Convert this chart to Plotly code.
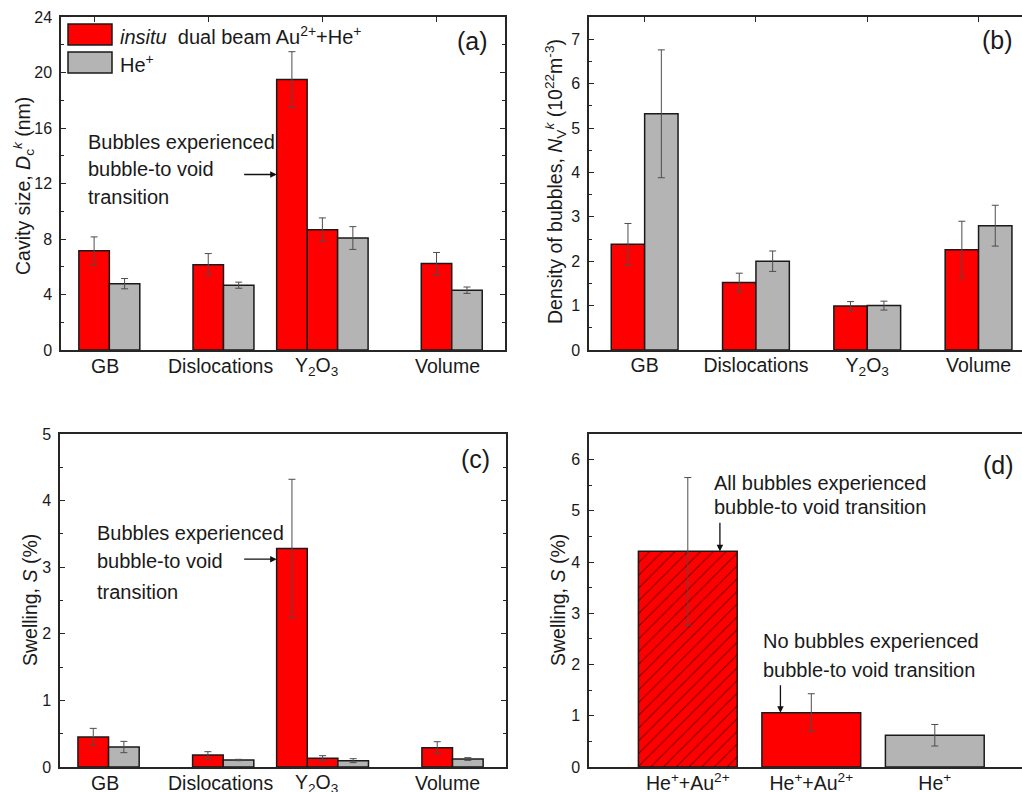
import plotly.graph_objects as go

# ---------------- data ----------------
sites = ["GB", "Dislocations", "Y<sub>2</sub>O<sub>3</sub>", "Volume"]
site_pos = [1, 2, 3, 4]

# (a) cavity size D_c^k, nm
size_dual = [7.15, 6.15, 8.67, 6.23]
size_dual_err = [1.0, 0.8, 0.85, 0.8]
size_he = [4.78, 4.67, 8.07, 4.31]
size_he_err = [0.37, 0.22, 0.82, 0.23]
size_void = [19.5]          # Y2O3 cavities after bubble-to-void transition
size_void_err = [2.0]

# (b) bubble density N_V^k, 1e22 m^-3
dens_dual = [2.38, 1.52, 0.99, 2.26]
dens_dual_err = [0.47, 0.21, 0.10, 0.64]
dens_he = [5.32, 2.00, 1.00, 2.80]
dens_he_err = [1.44, 0.23, 0.10, 0.46]

# (c) swelling by site, %
sw_dual = [0.45, 0.18, 0.13, 0.29]
sw_dual_err = [0.13, 0.05, 0.04, 0.09]
sw_he = [0.30, 0.105, 0.095, 0.12]
sw_he_err = [0.085, 0.01, 0.03, 0.02]
sw_void = [3.28]
sw_void_err = [1.04]

# (d) total swelling, %
total_labels = ["He<sup>+</sup>+Au<sup>2+</sup>", "He<sup>+</sup>+Au<sup>2+</sup>", "He<sup>+</sup>"]
total_pos = [1, 2, 3]
total_sw = [4.21, 1.06, 0.62]
total_sw_err = [1.44, 0.37, 0.21]

# ---------------- style ----------------
W, H = 1022, 792
RED = "#ff0000"
GREY = "#b4b4b4"
EDGE = "#1a1a1a"
ERRC = "#4d4d4d"
AXC = "#262626"
TXT = "#1a1a1a"
FONT = "Liberation Sans, Arial, sans-serif"

W_SITE = 0.267   # bar width in panels (a) and (c)
W_DENS = 0.30    # bar width in panel (b)
W_TOT = 0.80     # bar width in panel (d)


def px_x(p):
    return p / W


def px_y(p):
    return 1 - p / H


def bar(xa, ya, x, y, err, color, width, offset, pattern=None):
    marker = dict(color=color, line=dict(color=EDGE, width=1.5))
    if pattern:
        marker["pattern"] = pattern
    return go.Bar(
        x=x, y=y, xaxis=xa, yaxis=ya, width=width, offset=offset,
        marker=marker, showlegend=False,
        error_y=dict(type="data", array=err, color=ERRC, thickness=1, width=3.5),
    )


fig = go.Figure()

# (a)
fig.add_trace(bar("x", "y", site_pos, size_dual, size_dual_err, RED, W_SITE, -W_SITE / 2))
fig.add_trace(bar("x", "y", site_pos, size_he, size_he_err, GREY, W_SITE, W_SITE / 2))
fig.add_trace(bar("x", "y", [site_pos[2]], size_void, size_void_err, RED, W_SITE, -1.5 * W_SITE))

# (b)
fig.add_trace(bar("x2", "y2", site_pos, dens_dual, dens_dual_err, RED, W_DENS, -W_DENS))
fig.add_trace(bar("x2", "y2", site_pos, dens_he, dens_he_err, GREY, W_DENS, 0))

# (c)
fig.add_trace(bar("x3", "y3", site_pos, sw_dual, sw_dual_err, RED, W_SITE, -W_SITE / 2))
fig.add_trace(bar("x3", "y3", site_pos, sw_he, sw_he_err, GREY, W_SITE, W_SITE / 2))
fig.add_trace(bar("x3", "y3", [site_pos[2]], sw_void, sw_void_err, RED, W_SITE, -1.5 * W_SITE))

# (d)
hatch = dict(shape="/", fgcolor="#000000", bgcolor=RED, size=9, solidity=0.12)
fig.add_trace(bar("x4", "y4", total_pos[:1], total_sw[:1], total_sw_err[:1], RED, W_TOT, -W_TOT / 2, hatch))
fig.add_trace(bar("x4", "y4", total_pos[1:2], total_sw[1:2], total_sw_err[1:2], RED, W_TOT, -W_TOT / 2))
fig.add_trace(bar("x4", "y4", total_pos[2:], total_sw[2:], total_sw_err[2:], GREY, W_TOT, -W_TOT / 2))

base_axis = dict(
    showline=True, linecolor=AXC, linewidth=1.5, showgrid=False, zeroline=False,
    ticks="inside", ticklen=5, tickwidth=1.2, tickcolor=AXC, automargin=False,
    tickfont=dict(family=FONT, size=16, color=TXT), fixedrange=True,
)


def yaxis(domain, rng, dtick, minor_dtick, mirror, anchor):
    return dict(
        base_axis, domain=domain, range=rng, dtick=dtick, tick0=0, anchor=anchor,
        mirror=mirror, ticklabelstandoff=4,
        minor=dict(ticks="inside", ticklen=3, dtick=minor_dtick, tick0=0,
                   tickcolor=AXC, tickwidth=1),
    )


dom_a_x = [px_x(61), px_x(505)]
dom_b_x = [px_x(589), 1.0]
dom_c_x = [px_x(60), px_x(506)]
dom_d_x = [px_x(589), 1.0]
dom_top_y = [px_y(350), px_y(17)]
dom_bot_y = [px_y(767), px_y(434)]

fig.update_layout(
    width=W, height=H,
    margin=dict(l=0, r=0, t=0, b=0, autoexpand=False),
    paper_bgcolor="white", plot_bgcolor="white",
    barmode="overlay",
    font=dict(family=FONT, color=TXT),
    xaxis=dict(base_axis, domain=dom_a_x, range=[0.71, 4.6], tickvals=site_pos,
               showticklabels=False, mirror="ticks", layer="below traces", anchor="y"),
    yaxis=yaxis(dom_top_y, [0, 24], 4, 2, "ticks", "x"),
    xaxis2=dict(base_axis, domain=dom_b_x, range=[0.5, 0.5 + 433 / 111.3], tickvals=site_pos,
                ticktext=sites, mirror="ticks", layer="below traces", anchor="y2",
                tickfont=dict(family=FONT, size=19.5, color=TXT), ticklabelstandoff=-3),
    yaxis2=yaxis(dom_top_y, [0, 7.5], 1, 0.5, False, "x2"),
    xaxis3=dict(base_axis, domain=dom_c_x, range=[0.71, 4.6], tickvals=site_pos,
                showticklabels=False, ticks="", mirror=True, anchor="y3"),
    yaxis3=yaxis(dom_bot_y, [0, 5], 1, 0.5, "ticks", "x3"),
    xaxis4=dict(base_axis, domain=dom_d_x, range=[0.2, 0.2 + 433 / 123.5], tickvals=total_pos,
                ticktext=total_labels, ticks="", mirror=True, anchor="y4",
                tickfont=dict(family=FONT, size=19.5, color=TXT), ticklabelstandoff=-2),
    yaxis4=yaxis(dom_bot_y, [0, 6.5], 1, 0.5, False, "x4"),
)

ann = []


def text(px, py, s, size=20, xanchor="left", angle=0):
    ann.append(dict(x=px_x(px), y=px_y(py), xref="paper", yref="paper", text=s,
                    showarrow=False, xanchor=xanchor, yanchor="middle", textangle=angle,
                    font=dict(family=FONT, size=size, color=TXT)))


# category labels for (a) and (c)
label_px = [105, 220, 316, 447]
for name, lx in zip(sites, label_px):
    text(lx, 366, name, 19.5, xanchor="center")
    text(lx, 783, name, 19.5, xanchor="center")

# axis titles
text(23, 186, "Cavity size, <i>D</i><sub>c</sub><sup><i>k</i></sup> (nm)", 19.5, "center", -90)
text(556, 182, "Density of bubbles, <i>N</i><sub>V</sub><sup><i>k</i></sup> (10<sup>22</sup>m<sup>-3</sup>)",
     19.5, "center", -90)
text(30, 600, "Swelling, <i>S</i> (%)", 19.5, "center", -90)
text(558, 600, "Swelling, <i>S</i> (%)", 19.5, "center", -90)

# panel letters
text(472, 41, "(a)", 25, "center")
text(997, 40, "(b)", 25, "center")
text(475, 459, "(c)", 25, "center")
text(998, 465, "(d)", 25, "center")

# notes
for py, s in zip([142, 169, 197], ["Bubbles experienced", "bubble-to void", "transition"]):
    text(86, py, s)
for py, s in zip([533, 561, 592], ["Bubbles experienced", "bubble-to void", "transition"]):
    text(95, py, s)
text(712, 483, "All bubbles experienced")
text(712, 507, "bubble-to void transition")
text(761, 641, "No bubbles experienced")
text(761, 670, "bubble-to void transition")

# legend (drawn inside panel a)
text(118, 35, "<i>insitu</i>\u00a0\u00a0dual beam Au<sup>2+</sup>+He<sup>+</sup>")
text(118, 63, "He<sup>+</sup>")

arrow = dict(showarrow=True, text="", arrowhead=2, arrowsize=1, arrowwidth=1.3, arrowcolor="#111111")
ann.append(dict(arrow, x=site_pos[2] - 1.5 * W_SITE, y=12.65, xref="x", yref="y", ax=-34, ay=0))
ann.append(dict(arrow, x=site_pos[2] - 1.5 * W_SITE, y=3.12, xref="x3", yref="y3", ax=-34, ay=0))
ann.append(dict(arrow, x=1.26, y=total_sw[0], xref="x4", yref="y4", ax=0, ay=-30))
ann.append(dict(arrow, x=1.75, y=total_sw[1], xref="x4", yref="y4", ax=0, ay=-29))

fig.update_layout(annotations=ann)

shapes = []
for (y0, y1, col) in [(24, 45, RED), (52, 73, GREY)]:
    shapes.append(dict(type="rect", xref="paper", yref="paper",
                       x0=px_x(68), x1=px_x(112), y0=px_y(y1), y1=px_y(y0),
                       fillcolor=col, line=dict(color=EDGE, width=1.5)))
fig.update_layout(shapes=shapes)

fig.write_html("out.html")
